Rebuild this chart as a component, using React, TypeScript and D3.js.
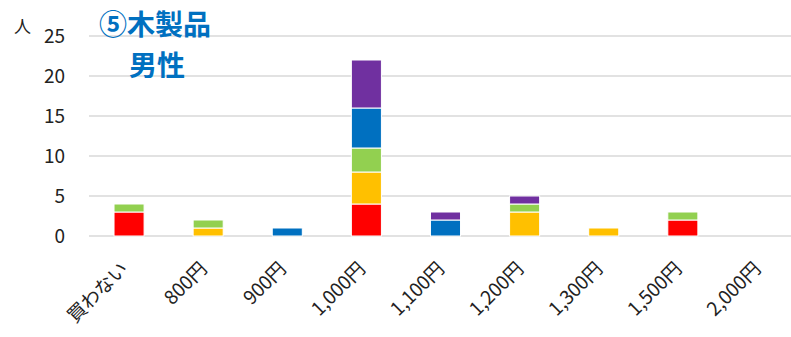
import React from "react";
import * as d3 from "d3";

const categories = ["買わない", "800円", "900円", "1,000円", "1,100円", "1,200円", "1,300円", "1,500円", "2,000円"];
const seriesNames = ["s1", "s2", "s3", "s4", "s5"];
const seriesColors = ["#FF0000", "#FFC000", "#92D050", "#0070C0", "#7030A0"];
const s1 = [3, 0, 0, 4, 0, 0, 0, 2, 0];
const s2 = [0, 1, 0, 4, 0, 3, 1, 0, 0];
const s3 = [1, 1, 0, 3, 0, 1, 0, 1, 0];
const s4 = [0, 0, 1, 5, 2, 0, 0, 0, 0];
const s5 = [0, 0, 0, 6, 1, 1, 0, 0, 0];
const yTicks = [0, 5, 10, 15, 20, 25];

export default function App() {
  const W = 791, H = 337;
  const x0 = 89.5, x1 = 801.5;
  const y = d3.scaleLinear().domain([0, 25]).range([236, 36]);
  const x = d3.scaleBand().domain(categories).range([x0, x1]).paddingInner(0.62).paddingOuter(0.31);
  const rows = categories.map((c, i) => {
    const o: any = { cat: c };
    [s1, s2, s3, s4, s5].forEach((s, k) => (o[seriesNames[k]] = s[i]));
    return o;
  });
  const stacked = d3.stack().keys(seriesNames)(rows);
  const font = "'Noto Sans CJK JP', sans-serif";
  return (
    <svg width={W} height={H} style={{ position: "absolute", left: 0, top: 0, background: "#fff" }}>
      {yTicks.map((t) => (
        <g key={t}>
          <line x1={89} x2={W} y1={y(t)} y2={y(t)} stroke="#d9d9d9" strokeWidth={t === 0 ? 1.5 : 1.3} />
          <text x={65} y={y(t)} dy="0.35em" textAnchor="end" fontSize={19} fill="#222" fontFamily={font}>{t}</text>
        </g>
      ))}
      <text x={14} y={33} fontSize={17} fill="#222" fontFamily={font}>人</text>
      {stacked.map((layer, k) => (
        <g key={k} fill={seriesColors[k]}>
          {layer.map((d, i) =>
            d[1] - d[0] > 0 ? (
              <rect key={i} x={x(categories[i])} y={y(d[1])} width={x.bandwidth()} height={y(d[0]) - y(d[1])} stroke="#fff" strokeWidth={1} />
            ) : null
          )}
        </g>
      ))}
      {categories.map((c) => {
        const cx = (x(c) as number) + x.bandwidth() / 2;
        return (
          <text key={c} transform={`translate(${cx},${270}) rotate(-45)`} textAnchor="end" fontSize={19} fill="#222" fontFamily={font}>{c}</text>
        );
      })}
      <text x={99} y={35} fontSize={28} fontWeight="bold" fill="#0070C0" fontFamily={font}>⑤木製品</text>
      <text x={129} y={76} fontSize={28} fontWeight="bold" fill="#0070C0" fontFamily={font}>男性</text>
    </svg>
  );
}
